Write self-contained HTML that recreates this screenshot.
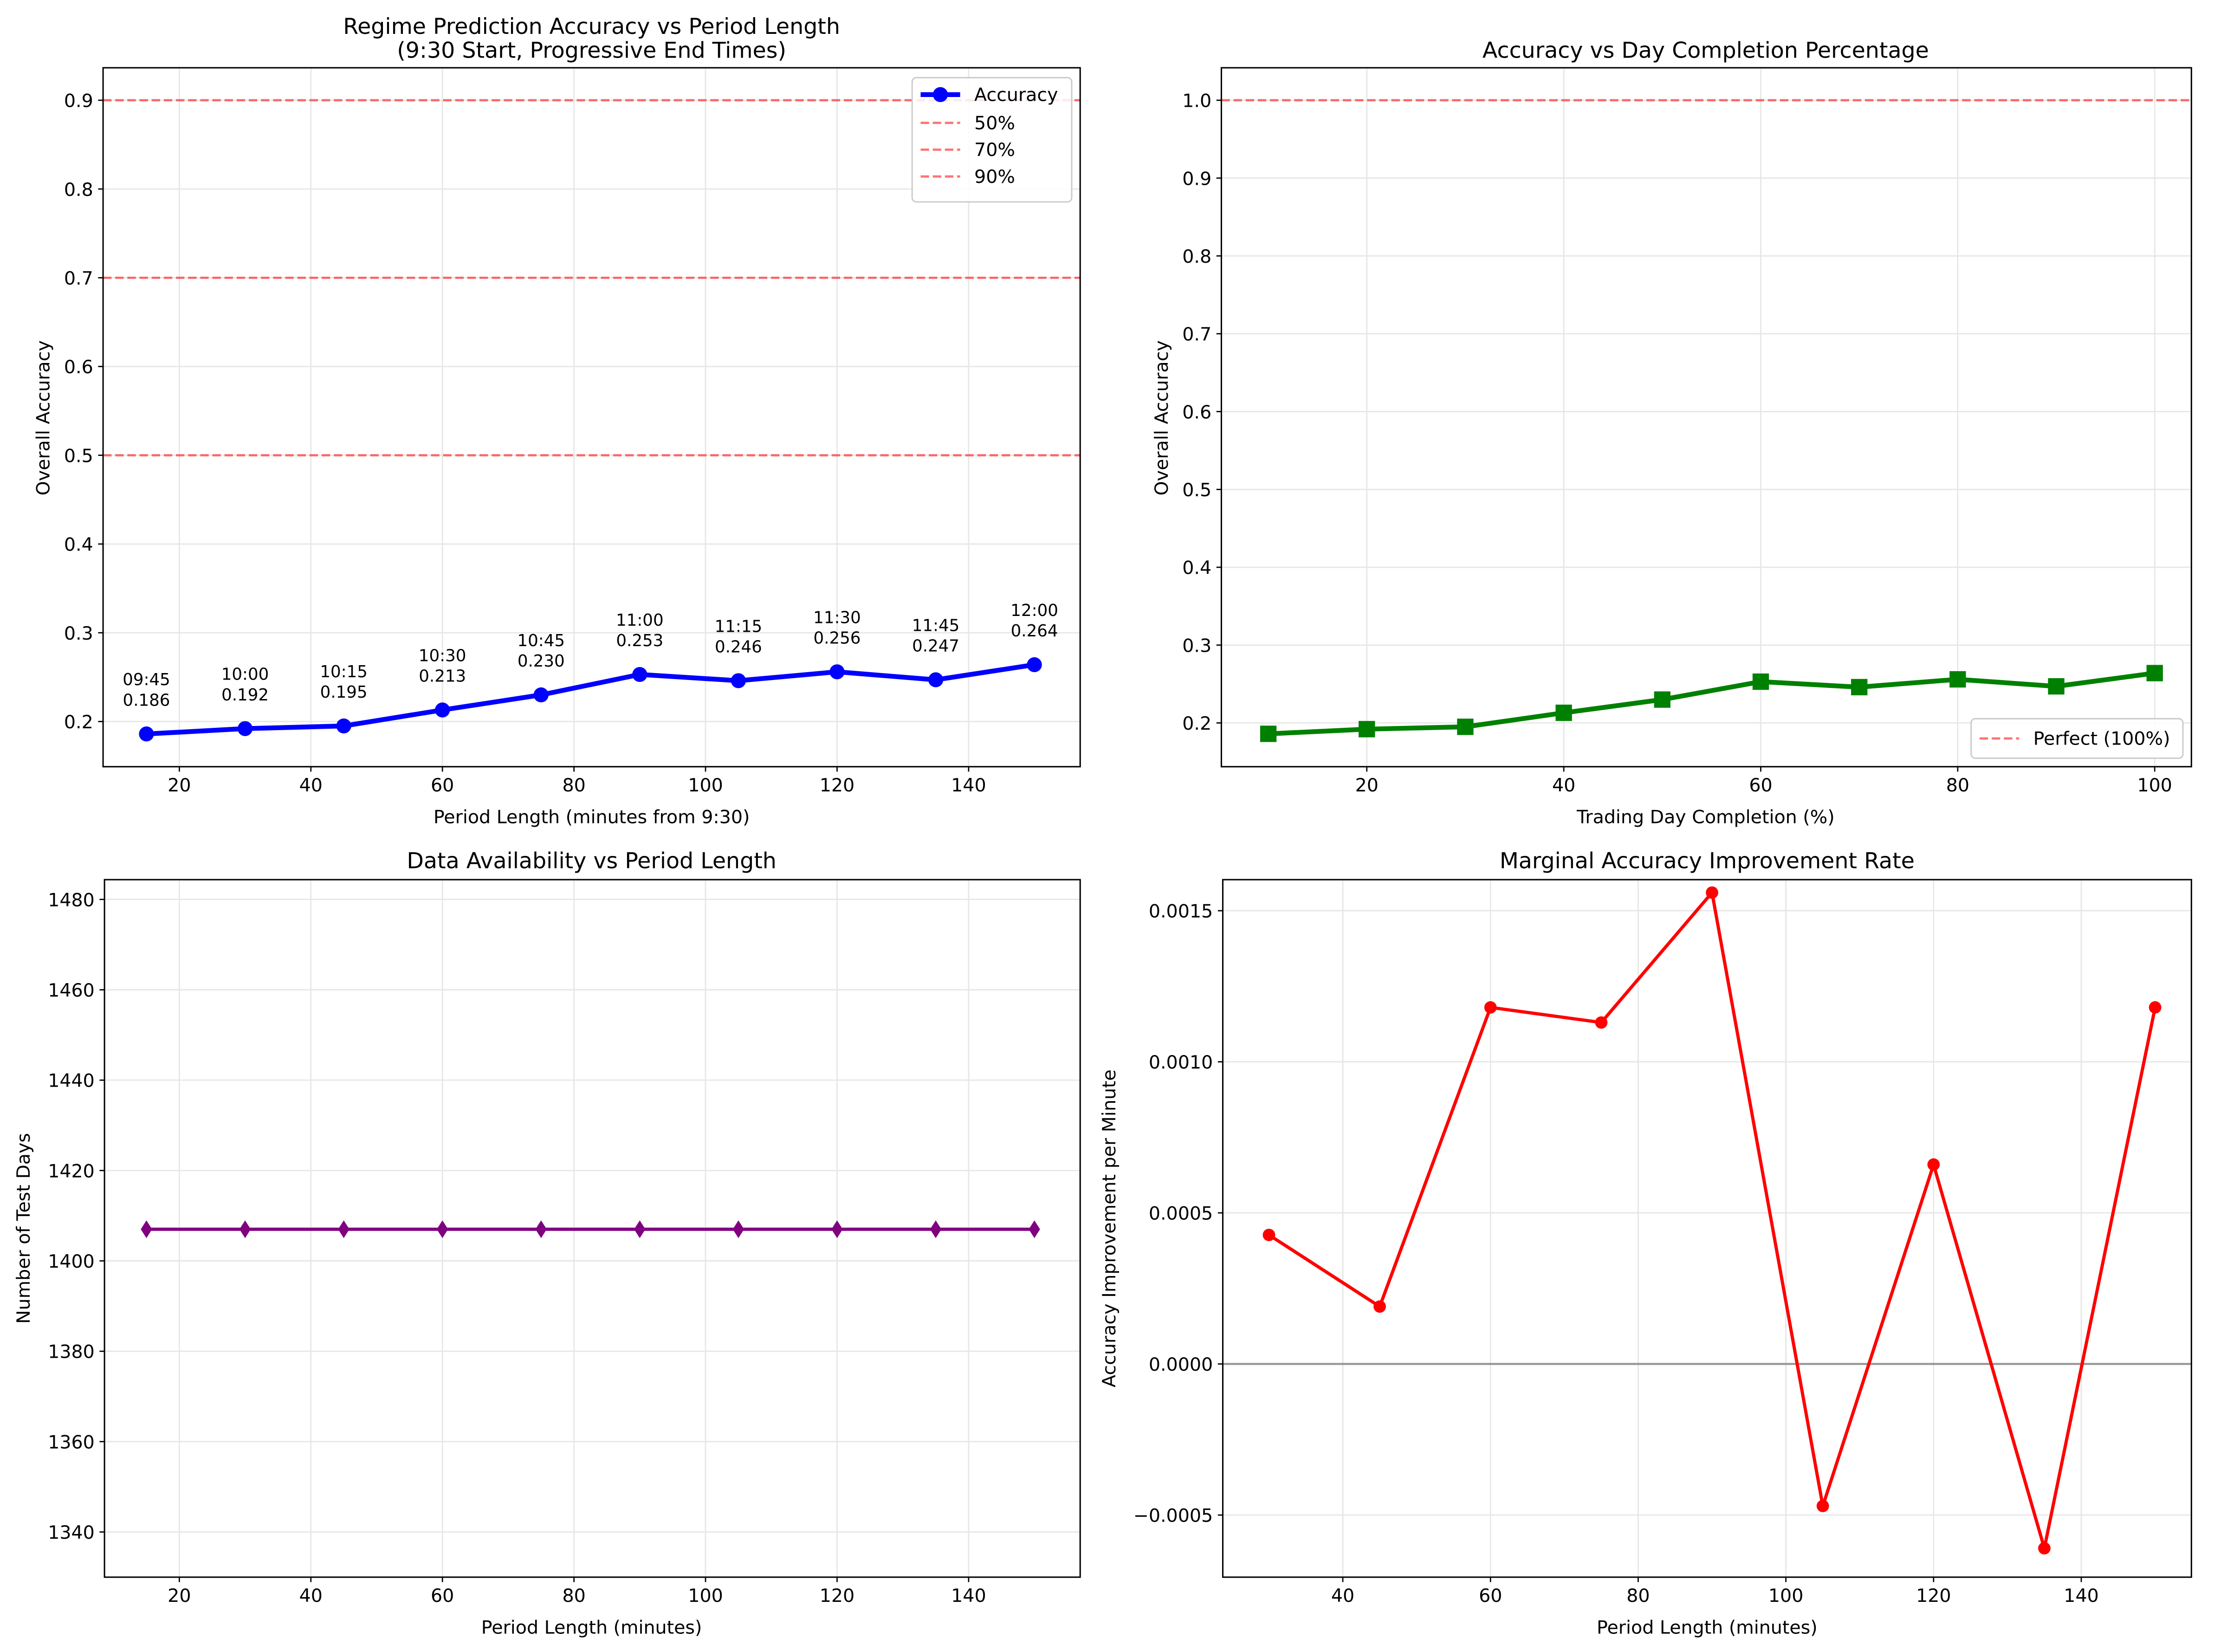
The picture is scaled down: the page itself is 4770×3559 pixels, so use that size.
<!DOCTYPE html>
<html><head><meta charset="utf-8"><style>
html,body{margin:0;padding:0;background:#fff}
svg{display:block}
text{font-family:"DejaVu Sans","Liberation Sans",sans-serif;fill:#000}
</style></head><body>
<svg id="fig" width="4770" height="3559" viewBox="0 0 1568 1170" preserveAspectRatio="none" xmlns="http://www.w3.org/2000/svg"></svg>
<script>
const periods=[15,30,45,60,75,90,105,120,135,150];
const times=["09:45","10:00","10:15","10:30","10:45","11:00","11:15","11:30","11:45","12:00"];
const accuracy=[0.186,0.192,0.195,0.213,0.230,0.253,0.246,0.256,0.247,0.264];
const completion=[10,20,30,40,50,60,70,80,90,100];
const testDays=[1407,1407,1407,1407,1407,1407,1407,1407,1407,1407];
const margPeriods=[30,45,60,75,90,105,120,135,150];
const marginal=[0.000427,0.00019,0.00118,0.00113,0.00156,-0.00047,0.00066,-0.00061,0.00118];
const thresholds=[0.5,0.7,0.9];
const thrLabels=["50%","70%","90%"];
const xt1=[20,40,60,80,100,120,140];
const yt1=[0.2,0.3,0.4,0.5,0.6,0.7,0.8,0.9];
const xt2=[20,40,60,80,100];
const yt2=[0.2,0.3,0.4,0.5,0.6,0.7,0.8,0.9,1.0];
const yt3=[1340,1360,1380,1400,1420,1440,1460,1480];
const xt4=[40,60,80,100,120,140];
const yt4=[-0.0005,0,0.0005,0.001,0.0015];
const yt4L=["−0.0005","0.0000","0.0005","0.0010","0.0015"];

const svg=document.getElementById('fig');
const NS='http://www.w3.org/2000/svg';
const TF=13, LF=13, HF=15.6, AF=11.7;
function el(tag,attrs,parent,txt){const e=document.createElementNS(NS,tag);for(const k in attrs)e.setAttribute(k,attrs[k]);if(txt!==undefined)e.textContent=txt;(parent||svg).appendChild(e);return e;}
function lin(d0,d1,p0,p1){return v=>p0+(v-d0)*(p1-p0)/(d1-d0);}

function axes(name,box,sx,sy,xt,yt,ytl,fmtY){
  const g=el('g',{},svg);
  
  
  const [L,T,R,B]=box;
  xt.forEach(v=>{const x=sx(v);el('line',{x1:x,x2:x,y1:T,y2:B,stroke:'#e6e6e6','stroke-width':0.9},g);
    el('line',{x1:x,x2:x,y1:B,y2:B+3.5,stroke:'#000','stroke-width':0.9},g);
    const t=el('text',{x:x,y:B+17.5,'font-size':TF,'text-anchor':'middle'},g,String(v));
    });
  yt.forEach((v,i)=>{const y=sy(v);el('line',{x1:L,x2:R,y1:y,y2:y,stroke:'#e6e6e6','stroke-width':0.9},g);
    el('line',{x1:L-3.5,x2:L,y1:y,y2:y,stroke:'#000','stroke-width':0.9},g);
    const t=el('text',{x:L-7,y:y+4.8,'font-size':TF,'text-anchor':'end'},g,ytl?ytl[i]:fmtY(v));
    });
  return g;
}
function frame(box){const [L,T,R,B]=box;const r=el('rect',{x:L,y:T,width:R-L,height:B-T,fill:'none',stroke:'#000','stroke-width':1});}
function label(txt,x,y,name,rot,size){const t=el('text',{x:x,y:y,'font-size':size||LF,'text-anchor':'middle'},svg,txt);if(rot)t.setAttribute('transform',`rotate(-90 ${x} ${y})`);return t;}
const dash={stroke:'#ff0000','stroke-opacity':0.55,'stroke-width':1.6,'stroke-dasharray':'6,2.6'};

// Panel 1
const b1=[73,48,765,543];
const sx1=lin(20,140,127,686), sy1=lin(0.2,0.9,511,71);
axes('accuracy-vs-period-axes',b1,sx1,sy1,xt1,yt1,null,v=>v.toFixed(1));
thresholds.forEach((v,i)=>{const l=el('line',Object.assign({x1:b1[0],x2:b1[2],y1:sy1(v),y2:sy1(v)},dash));});
el('polyline',{points:periods.map((p,i)=>sx1(p)+','+sy1(accuracy[i])).join(' '),fill:'none',stroke:'#0000ff','stroke-width':3.4,'stroke-linejoin':'round'});
periods.forEach((p,i)=>{const c=el('circle',{cx:sx1(p),cy:sy1(accuracy[i]),r:5.3,fill:'#0000ff'});
  const yb=sy1(accuracy[i])-20;
  const t1=el('text',{x:sx1(p),y:yb-14.5,'font-size':AF,'text-anchor':'middle'},svg,times[i]);
  const t2=el('text',{x:sx1(p),y:yb,'font-size':AF,'text-anchor':'middle'},svg,accuracy[i].toFixed(3));});
frame(b1);
const lg=el('g',{});
el('rect',{x:646,y:55,width:113,height:88,rx:3,fill:'#fff','fill-opacity':0.85,stroke:'#ccc'},lg);
el('line',{x1:652,x2:680,y1:67,y2:67,stroke:'#0000ff','stroke-width':3.4},lg);el('circle',{cx:666,cy:67,r:5.3,fill:'#0000ff'},lg);
el('text',{x:690,y:71.5,'font-size':LF},lg,'Accuracy');
thrLabels.forEach((s,i)=>{const y=87+i*19;el('line',Object.assign({x1:652,x2:680,y1:y,y2:y},dash),lg);el('text',{x:690,y:y+4.5,'font-size':LF},lg,s);});
label('Regime Prediction Accuracy vs Period Length',419,24,'chart-title-1',false,HF);
label('(9:30 Start, Progressive End Times)',419,41,'chart-subtitle-1',false,HF);
label('Period Length (minutes from 9:30)',419,583,'x-axis-title-1');
label('Overall Accuracy',35,296,'y-axis-title-1',true);

// Panel 2
const b2=[865,48,1552,543];
const sx2=lin(20,100,968,1526), sy2=lin(0.2,1.0,512,71);
axes('accuracy-vs-completion-axes',b2,sx2,sy2,xt2,yt2,null,v=>v.toFixed(1));
el('line',Object.assign({x1:b2[0],x2:b2[2],y1:sy2(1.0),y2:sy2(1.0)},dash));
el('polyline',{points:completion.map((p,i)=>sx2(p)+','+sy2(accuracy[i])).join(' '),fill:'none',stroke:'#008000','stroke-width':3.4});
completion.forEach((p,i)=>{const r=el('rect',{x:sx2(p)-5.8,y:sy2(accuracy[i])-5.8,width:11.6,height:11.6,fill:'#008000'});});
frame(b2);
const lg2=el('g',{});
el('rect',{x:1396,y:509,width:150,height:28,rx:3,fill:'#fff','fill-opacity':0.85,stroke:'#ccc'},lg2);
el('line',Object.assign({x1:1402,x2:1430,y1:523,y2:523},dash),lg2);
el('text',{x:1440,y:527.5,'font-size':LF},lg2,'Perfect (100%)');
label('Accuracy vs Day Completion Percentage',1208,41,'chart-title-2',false,HF);
label('Trading Day Completion (%)',1208,583,'x-axis-title-2');
label('Overall Accuracy',827,296,'y-axis-title-2',true);

// Panel 3
const b3=[74,623,765,1117];
const sy3=lin(1340,1480,1085,637);
axes('test-days-axes',b3,sx1,sy3,xt1,yt3,null,v=>String(v));
el('polyline',{points:periods.map((p,i)=>sx1(p)+','+sy3(testDays[i])).join(' '),fill:'none',stroke:'#800080','stroke-width':2.3});
periods.forEach((p,i)=>{const x=sx1(p),y=sy3(testDays[i]);const d=el('polygon',{points:`${x},${y-6.3} ${x+4},${y} ${x},${y+6.3} ${x-4},${y}`,fill:'#800080'});});
frame(b3);
label('Data Availability vs Period Length',419,615,'chart-title-3',false,HF);
label('Period Length (minutes)',419,1157,'x-axis-title-3');
label('Number of Test Days',21,870,'y-axis-title-3',true);

// Panel 4
const b4=[866,623,1552,1117];
const sx4=lin(40,140,951,1474), sy4=lin(-0.0005,0.0015,1073,645);
axes('marginal-axes',b4,sx4,sy4,xt4,yt4,yt4L);
el('line',{x1:b4[0],x2:b4[2],y1:sy4(0),y2:sy4(0),stroke:'#000','stroke-opacity':0.35,'stroke-width':1.5});
el('polyline',{points:margPeriods.map((p,i)=>sx4(p)+','+sy4(marginal[i])).join(' '),fill:'none',stroke:'#ff0000','stroke-width':2.3});
margPeriods.forEach((p,i)=>{const c=el('circle',{cx:sx4(p),cy:sy4(marginal[i]),r:4.4,fill:'#ff0000'});});
frame(b4);
label('Marginal Accuracy Improvement Rate',1209,615,'chart-title-4',false,HF);
label('Period Length (minutes)',1209,1157,'x-axis-title-4');
label('Accuracy Improvement per Minute',790,870,'y-axis-title-4',true);
</script>
</body></html>
